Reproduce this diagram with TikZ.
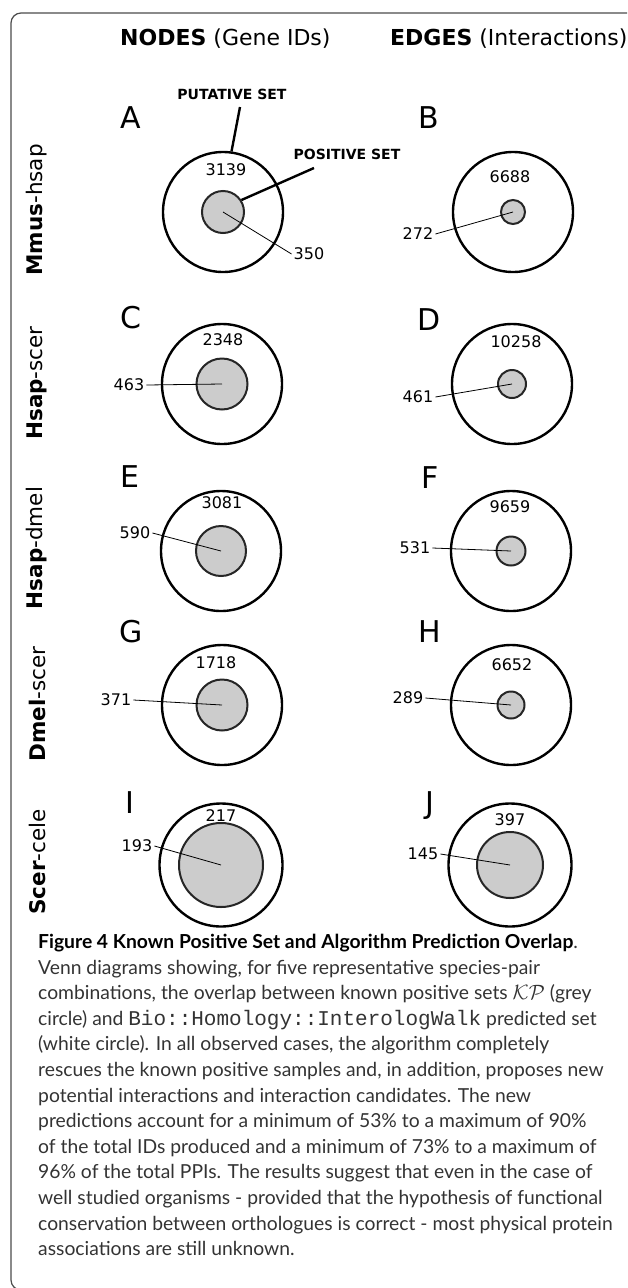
\documentclass[tikz,border=0pt]{standalone}
\usepackage{fontspec}
\setmainfont{Lato}
\newfontfamily\figfont{DejaVu Sans}
\newfontfamily\codefont{Liberation Mono}
\usetikzlibrary{positioning}

\tikzset{
  frame/.style={draw=black!70, line width=1.2pt, rounded corners=10pt},
  header/.style={font=\figfont\fontsize{22}{26}\selectfont, inner sep=0pt, anchor=base west},
  panelletter/.style={font=\figfont\fontsize{30}{34}\selectfont, inner sep=0pt, anchor=base},
  rowlabel/.style={font=\figfont\fontsize{21.5}{25}\selectfont, rotate=90, inner sep=0pt},
  setlabel/.style={font=\figfont\bfseries\fontsize{14}{16}\selectfont, inner sep=0pt},
  outerset/.style={circle, draw, line width=2.4pt, fill=white, minimum size=120pt, inner sep=0pt},
  innerset/.style={circle, draw=black!85, line width=2pt, fill=black!20, inner sep=0pt},
  count/.style={font=\figfont\fontsize{16}{18}\selectfont, inner sep=0pt},
  tally/.style={font=\figfont\fontsize{16}{18}\selectfont, inner sep=2pt},
  leader/.style={line width=0.8pt},
  pointer/.style={line width=2.4pt},
  caption/.style={font=\fontsize{19.3}{25.6}\selectfont, align=left, inner sep=0pt, text=black!80},
}

\begin{document}
\begin{tikzpicture}[x=1pt, y=-1pt]
  \useasboundingbox (0,0) rectangle (627,1288);
  \clip (0,0) rectangle (627,1288);
  \draw[frame] (11,13) rectangle (660,1290);% open frame

  % column headers
  \node[header] (nodeshead) at (120,45) {\textbf{NODES} (Gene IDs)};
  \node[header] (edgeshead) at (390,45) {\textbf{EDGES} (Interactions)};

  % circle centres
  \coordinate (cA) at (223,212);
  \coordinate (cB) at (513,212);
  \coordinate (cC) at (222,384);
  \coordinate (cD) at (512,384);
  \coordinate (cE) at (221,551);
  \coordinate (cF) at (511,551);
  \coordinate (cG) at (222,705);
  \coordinate (cH) at (511,705);
  \coordinate (cI) at (221,865);
  \coordinate (cJ) at (510,865);

  % row labels
  \node[rowlabel] (rowMmus) at (37,210) {\textbf{Mmus}-hsap};
  \node[rowlabel] (rowHscer) at (37,383) {\textbf{Hsap}-scer};
  \node[rowlabel] (rowHdmel) at (37,548) {\textbf{Hsap}-dmel};
  \node[rowlabel] (rowDscer) at (37,704) {\textbf{Dmel}-scer};
  \node[rowlabel] (rowScele) at (37,862) {\textbf{Scer}-cele};

  % panel letters
  \node[panelletter] (labA) at (131,128) {A};
  \node[panelletter] (labB) at (429,128) {B};
  \node[panelletter] (labC) at (131,328) {C};
  \node[panelletter] (labD) at (429,330) {D};
  \node[panelletter] (labE) at (130,487) {E};
  \node[panelletter] (labF) at (430,488) {F};
  \node[panelletter] (labG) at (131,642) {G};
  \node[panelletter] (labH) at (430,642) {H};
  \node[panelletter] (labI) at (130,813) {I};
  \node[panelletter] (labJ) at (430,813) {J};

  % putative sets
  \node[outerset] (outA) at (cA) {};
  \node[outerset] (outB) at (cB) {};
  \node[outerset] (outC) at (cC) {};
  \node[outerset] (outD) at (cD) {};
  \node[outerset] (outE) at (cE) {};
  \node[outerset] (outF) at (cF) {};
  \node[outerset] (outG) at (cG) {};
  \node[outerset] (outH) at (cH) {};
  \node[outerset, minimum size=123pt] (outI) at (cI) {};
  \node[outerset, minimum size=123pt] (outJ) at (cJ) {};

  % known positive sets
  \node[innerset, minimum size=42pt] (inA) at (cA) {};
  \node[innerset, minimum size=24pt] (inB) at (cB) {};
  \node[innerset, minimum size=51pt] (inC) at (cC) {};
  \node[innerset, minimum size=28pt] (inD) at (cD) {};
  \node[innerset, minimum size=50pt] (inE) at (cE) {};
  \node[innerset, minimum size=29pt] (inF) at (cF) {};
  \node[innerset, minimum size=51pt] (inG) at (cG) {};
  \node[innerset, minimum size=27pt] (inH) at (cH) {};
  \node[innerset, minimum size=84pt] (inI) at (cI) {};
  \node[innerset, minimum size=66pt] (inJ) at (cJ) {};

  % putative counts
  \node[count] (nA) at (226,170) {3139};
  \node[count] (nB) at (510,177) {6688};
  \node[count] (nC) at (223,340) {2348};
  \node[count] (nD) at (516,342) {10258};
  \node[count] (nE) at (222,503) {3081};
  \node[count] (nF) at (510,507) {9659};
  \node[count] (nG) at (216,663) {1718};
  \node[count] (nH) at (512,665) {6652};
  \node[count] (nI) at (221,816) {217};
  \node[count] (nJ) at (510,820) {397};

  % positive counts with leaders
  \node[tally] (kA) at (309,254) {350};
  \node[tally] (kB) at (418,234) {272};
  \node[tally] (kC) at (129,385) {463};
  \node[tally] (kD) at (418,397) {461};
  \node[tally] (kE) at (135,533) {590};
  \node[tally] (kF) at (415,548) {531};
  \node[tally] (kG) at (116,700) {371};
  \node[tally] (kH) at (408,698) {289};
  \node[tally] (kI) at (137,846) {193};
  \node[tally] (kJ) at (423,854) {145};
  \draw[leader] (kA.west) -- (inA.center);
  \draw[leader] (kB.east) -- (inB.center);
  \draw[leader] (kC.east) -- (inC.center);
  \draw[leader] (kD.east) -- (inD.center);
  \draw[leader] (kE.east) -- (inE.center);
  \draw[leader] (kF.east) -- (inF.center);
  \draw[leader] (kG.east) -- (inG.center);
  \draw[leader] (kH.east) -- (inH.center);
  \draw[leader] (kI.east) -- (inI.center);
  \draw[leader] (kJ.east) -- (inJ.center);

  % set legend
  \node[setlabel] (putlab) at (232,94) {PUTATIVE SET};
  \node[setlabel] (poslab) at (347,154) {POSITIVE SET};
  \coordinate (puttip) at (240,107);
  \coordinate (postip) at (314,168);
  \draw[pointer] (puttip) -- (outA.82);
  \draw[pointer] (postip) -- (inA.33);

  % caption
  \node[caption, anchor=north west] (capt) at (38,934) {%
    {\color{black}\textbf{Figure 4 Known Positive Set and Algorithm Prediction Overlap}}.\\
    Venn diagrams showing, for five representative species-pair\\
    combinations, the overlap between known positive sets $\mathcal{KP}$ (grey\\
    circle) and {\codefont\fontsize{21}{25.6}\selectfont Bio::Homology::InterologWalk} predicted set\\
    (white circle). In all observed cases, the algorithm completely\\
    rescues the known positive samples and, in addition, proposes new\\
    potential interactions and interaction candidates. The new\\
    predictions account for a minimum of 53\% to a maximum of 90\%\\
    of the total IDs produced and a minimum of 73\% to a maximum of\\
    96\% of the total PPIs. The results suggest that even in the case of\\
    well studied organisms - provided that the hypothesis of functional\\
    conservation between orthologues is correct - most physical protein\\
    associations are still unknown.};
\end{tikzpicture}
\end{document}
